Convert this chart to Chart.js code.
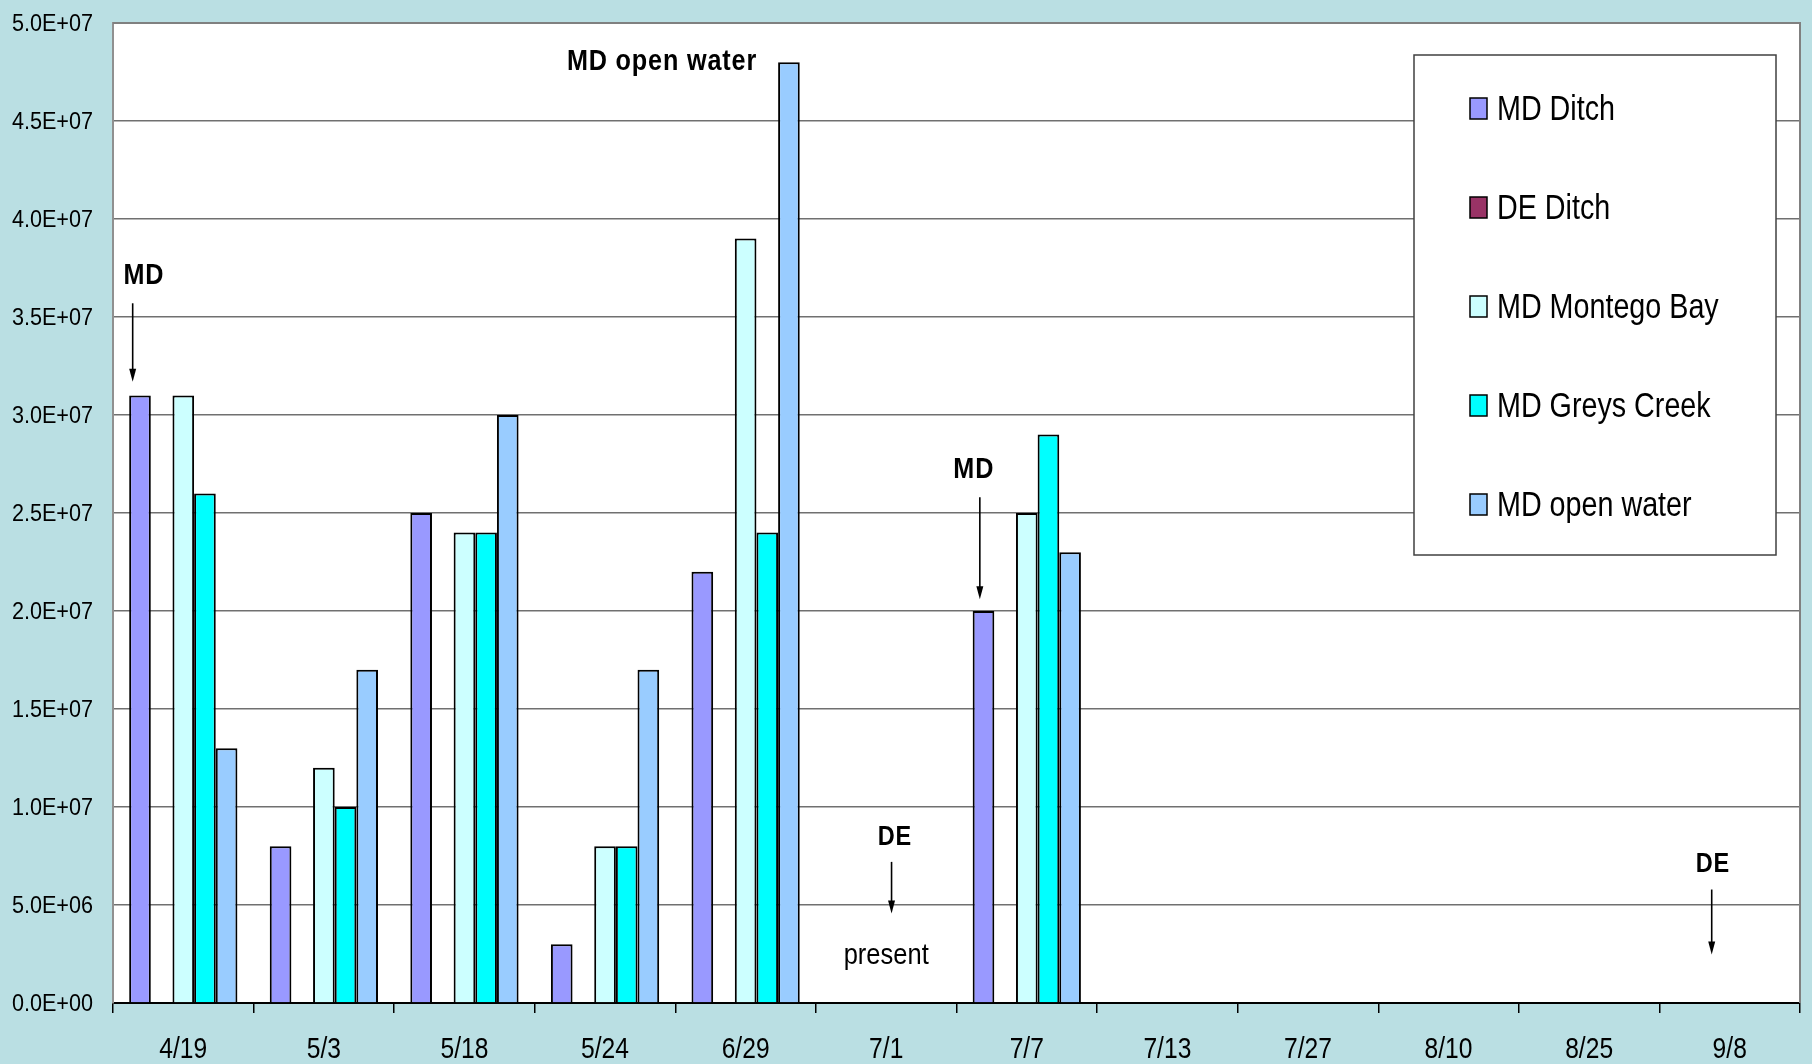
<!DOCTYPE html>
<html>
<head>
<meta charset="utf-8">
<script src="https://cdn.jsdelivr.net/npm/chart.js@4.4.1/dist/chart.umd.min.js"></script>
<style>
  html, body { margin: 0; padding: 0; background: #badfe3; }
  #wrap { width: 1812px; height: 1064px; }
</style>
</head>
<body>
<div id="wrap"><canvas id="chart" width="1812" height="1064"></canvas></div>
<script>
// sampling dates along the x axis
const categories = ["4/19", "5/3", "5/18", "5/24", "6/29", "7/1", "7/7", "7/13", "7/27", "8/10", "8/25", "9/8"];

// counts per site, null where nothing was sampled
const mdDitch   = [3.1e7, 8.0e6, 2.5e7, 3.0e6, 2.2e7, null, 2.0e7, null, null, null, null, null];
const deDitch   = [null, null, null, null, null, null, null, null, null, null, null, null];
const mdMontego = [3.1e7, 1.2e7, 2.4e7, 8.0e6, 3.9e7, null, 2.5e7, null, null, null, null, null];
const mdGreys   = [2.6e7, 1.0e7, 2.4e7, 8.0e6, 2.4e7, null, 2.9e7, null, null, null, null, null];
const mdOpen    = [1.3e7, 1.7e7, 3.0e7, 1.7e7, 4.8e7, null, 2.3e7, null, null, null, null, null];

const seriesNames = ["MD Ditch", "DE Ditch", "MD Montego Bay", "MD Greys Creek", "MD open water"];
const seriesColors = ["#9999ff", "#993366", "#ccffff", "#00ffff", "#99ccff"];

// y axis range
const yMin = 0;
const yMax = 5.0e7;
const yStep = 5.0e6;

// text notes: category index, shift in category widths, value height
const notes = [
  { text: "MD", cat: 0, dx: -0.28, y: 3.71e7, bold: true },
  { text: "MD open water", cat: 4, dx: -0.595, y: 4.80e7, bold: true },
  { text: "MD", cat: 6, dx: -0.377, y: 2.72e7, bold: true },
  { text: "DE", cat: 5, dx: 0.062, y: 8.43e6, bold: true },
  { text: "present", cat: 5, dx: 0.0, y: 2.4e6, bold: false },
  { text: "DE", cat: 11, dx: -0.12, y: 7.06e6, bold: true },
];
// arrows pointing down: from value -> to value
const arrows = [
  { cat: 0, dx: -0.36, from: 3.57e7, to: 3.17e7 },
  { cat: 6, dx: -0.334, from: 2.58e7, to: 2.06e7 },
  { cat: 5, dx: 0.038, from: 7.2e6, to: 4.56e6 },
  { cat: 11, dx: -0.128, from: 5.79e6, to: 2.47e6 },
];

const FONT = "'Liberation Sans', Arial, sans-serif";

function sci(v) {
  if (v === 0) return "0.0E+00";
  let e = Math.floor(Math.log10(v) + 1e-9);
  let m = v / Math.pow(10, e);
  return m.toFixed(1) + "E+" + String(e).padStart(2, "0");
}

// text squeezed sideways, like a narrow face
function narrowText(ctx, text, x, y, sx, align) {
  ctx.save();
  ctx.translate(x, y);
  ctx.scale(sx, 1);
  ctx.textAlign = align;
  ctx.fillText(text, 0, 0);
  ctx.restore();
}

// plot background + frame
const frame = {
  id: "frame",
  beforeDraw(chart) {
    const { ctx, chartArea: a } = chart;
    ctx.save();
    ctx.fillStyle = "#badfe3";
    ctx.fillRect(0, 0, chart.width, chart.height);
    ctx.fillStyle = "#ffffff";
    ctx.fillRect(a.left, a.top, a.right - a.left, a.bottom - a.top);
    ctx.restore();
  },
  afterDraw(chart) {
    const { ctx, chartArea: a, scales: { x, y } } = chart;
    ctx.save();
    ctx.strokeStyle = "#808080";
    ctx.lineWidth = 2;
    ctx.beginPath();
    ctx.moveTo(a.left, a.top);
    ctx.lineTo(a.right, a.top);
    ctx.lineTo(a.right, a.bottom);
    ctx.stroke();

    // tick labels
    ctx.fillStyle = "#000";
    ctx.textBaseline = "middle";
    ctx.font = "24px " + FONT;
    y.ticks.forEach((t, i) => {
      narrowText(ctx, sci(t.value), y.right - 20, y.getPixelForTick(i) + 1, 0.9, "right");
    });
    ctx.font = "30px " + FONT;
    x.ticks.forEach((t, i) => {
      narrowText(ctx, x.getLabelForValue(t.value), x.getPixelForTick(i), x.top + 47, 0.82, "center");
    });
    ctx.restore();
  }
};

// notes and arrows placed in data space
const notesPlugin = {
  id: "notes",
  afterDatasetsDraw(chart) {
    const { ctx, scales: { x, y } } = chart;
    const cw = x.getPixelForValue(1) - x.getPixelForValue(0);
    ctx.save();
    ctx.textBaseline = "middle";
    ctx.fillStyle = "#000";
    for (const n of notes) {
      const px = x.getPixelForValue(n.cat) + n.dx * cw;
      const py = y.getPixelForValue(n.y);
      if (n.bold) {
        ctx.font = "bold " + (n.text === "DE" ? 28 : 30) + "px " + FONT;
        ctx.letterSpacing = "1px";
        narrowText(ctx, n.text, px, py, 0.84, "center");
      } else {
        ctx.font = "30px " + FONT;
        ctx.letterSpacing = "0px";
        narrowText(ctx, n.text, px, py, 0.85, "center");
      }
    }
    ctx.strokeStyle = "#000";
    ctx.lineWidth = 1.6;
    for (const a of arrows) {
      const px = x.getPixelForValue(a.cat) + a.dx * cw;
      const y0 = y.getPixelForValue(a.from);
      const y1 = y.getPixelForValue(a.to);
      ctx.beginPath();
      ctx.moveTo(px, y0);
      ctx.lineTo(px, y1 - 10);
      ctx.stroke();
      ctx.beginPath();
      ctx.moveTo(px - 3.5, y1 - 13);
      ctx.lineTo(px + 3.5, y1 - 13);
      ctx.lineTo(px, y1);
      ctx.closePath();
      ctx.fill();
    }
    ctx.restore();
  }
};

// boxed legend inside the plot
const boxLegend = {
  id: "boxLegend",
  afterDatasetsDraw(chart) {
    const { ctx, chartArea: a } = chart;
    const right = a.right - 24, top = a.top + 32;
    const w = 362, h = 500;
    const left = right - w;
    ctx.save();
    ctx.fillStyle = "#fff";
    ctx.fillRect(left, top, w, h);
    ctx.strokeStyle = "#404040";
    ctx.lineWidth = 1.5;
    ctx.strokeRect(left, top, w, h);
    ctx.font = "35px " + FONT;
    ctx.textBaseline = "middle";
    chart.data.datasets.forEach((ds, i) => {
      const cy = top + 53 + i * 99;
      ctx.fillStyle = ds.backgroundColor;
      ctx.fillRect(left + 56, cy - 10, 17, 21);
      ctx.strokeStyle = "#000";
      ctx.lineWidth = 1.5;
      ctx.strokeRect(left + 56, cy - 10, 17, 21);
      ctx.fillStyle = "#000";
      narrowText(ctx, ds.label, left + 83, cy + 2, 0.82, "left");
    });
    ctx.restore();
  }
};

const seriesData = [mdDitch, deDitch, mdMontego, mdGreys, mdOpen];

new Chart(document.getElementById("chart"), {
  type: "bar",
  plugins: [frame, notesPlugin, boxLegend],
  data: {
    labels: categories,
    datasets: seriesData.map((d, i) => ({
      label: seriesNames[i],
      data: d,
      backgroundColor: seriesColors[i],
      borderColor: "#000",
      borderWidth: 2,
      categoryPercentage: 0.77,
      barPercentage: 1.0,
    })),
  },
  options: {
    responsive: false,
    animation: false,
    layout: { padding: { top: 23, right: 12, left: 0, bottom: 0 } },
    plugins: {
      legend: { display: false },
      tooltip: { enabled: false },
    },
    scales: {
      x: {
        offset: true,
        grid: { offset: true, drawOnChartArea: false, drawTicks: true, tickLength: 10, color: "#000", lineWidth: 1.5 },
        border: { display: true, color: "#000", width: 2 },
        ticks: { display: false, autoSkip: false },
        afterFit(s) { s.height = 61; },
      },
      y: {
        min: yMin,
        max: yMax,
        grid: { color: "#707070", lineWidth: 1.5, drawTicks: false },
        border: { display: true, color: "#909090", width: 2 },
        ticks: { display: false, stepSize: yStep },
        afterFit(s) { s.width = 113; },
      },
    },
  },
});
</script>
</body>
</html>
